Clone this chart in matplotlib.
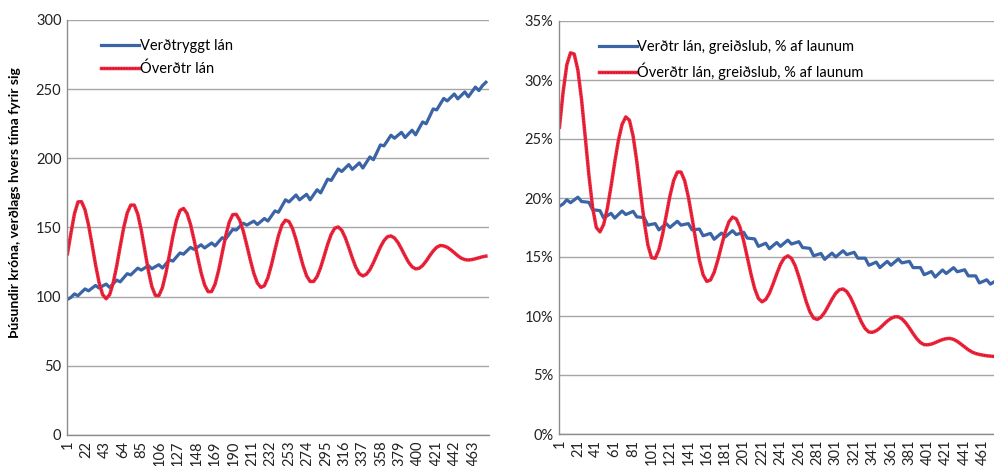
import numpy as np
import matplotlib
matplotlib.use("Agg")
from matplotlib import pyplot as plt
from matplotlib.legend_handler import HandlerTuple
from matplotlib.ticker import FuncFormatter

plt.rcParams['font.family'] = ['Lato', 'DejaVu Sans']

# months 1..480, values read every 4 months (1, 5, 9, ..., 477)
months = np.arange(1, 481, 4)

left_ticks = list(range(1, 481, 21))
right_ticks = list(range(1, 481, 20))

# thousand kr, price level of each time
left_indexed = [
    98.0, 99.5, 102.0, 100.7, 103.2, 105.6, 104.2, 106.2, 108.1, 106.2,
    107.7, 109.1, 106.7, 109.3, 112.0, 110.7, 113.7, 116.6, 115.7, 118.2,
    120.6, 119.2, 120.8, 122.5, 120.2, 121.7, 123.1, 120.7, 123.7, 126.6,
    125.7, 128.7, 131.6, 130.7, 133.2, 135.6, 134.2, 135.8, 137.5, 135.2,
    137.0, 138.8, 136.7, 139.7, 142.6, 141.7, 145.2, 148.6, 148.2, 150.7,
    153.1, 151.7, 153.2, 154.6, 152.2, 154.3, 156.5, 154.7, 158.3, 162.0,
    161.0, 165.5, 170.0, 168.5, 171.0, 173.5, 170.0, 172.0, 174.0, 170.0,
    173.7, 177.3, 175.0, 180.0, 185.0, 184.0, 188.2, 192.3, 190.5, 193.0,
    195.5, 192.0, 194.3, 196.7, 193.0, 197.0, 201.0, 199.0, 204.3, 209.7,
    209.0, 212.8, 216.7, 214.5, 216.7, 218.8, 215.0, 217.7, 220.3, 217.0,
    221.7, 226.3, 225.0, 230.3, 235.7, 235.0, 239.2, 243.3, 241.5, 244.0,
    246.5, 243.0, 245.5, 248.0, 244.5, 248.0, 251.5, 249.0, 252.5, 255.0,
]
left_nonindexed = [
    131.0, 146.0, 160.0, 168.5, 168.7, 162.8, 151.8, 137.7, 123.0, 110.2,
    101.5, 98.5, 101.4, 109.8, 122.1, 136.3, 149.9, 160.5, 166.2, 166.2,
    159.7, 148.0, 133.5, 119.0, 107.3, 100.9, 100.7, 106.5, 117.0, 130.3,
    143.8, 155.2, 162.3, 163.8, 160.2, 152.2, 141.1, 128.9, 117.4, 108.5,
    103.6, 103.7, 109.2, 119.1, 131.5, 143.9, 153.8, 159.3, 159.5, 155.2,
    147.4, 137.3, 126.6, 116.9, 109.9, 106.7, 107.9, 113.7, 122.9, 133.7,
    144.0, 151.8, 155.3, 154.3, 149.3, 141.3, 131.8, 122.5, 115.1, 111.0,
    111.0, 114.6, 121.1, 129.4, 137.9, 145.0, 149.5, 150.4, 148.0, 142.7,
    135.6, 128.0, 121.3, 116.6, 115.0, 116.2, 119.5, 124.5, 130.2, 135.9,
    140.5, 143.3, 143.9, 142.4, 139.1, 134.5, 129.5, 124.9, 121.6, 120.1,
    120.5, 122.5, 125.7, 129.5, 133.0, 135.7, 137.0, 136.7, 135.7, 133.9,
    131.8, 129.6, 127.8, 126.8, 126.5, 126.8, 127.4, 128.1, 128.8, 129.3,
]

# payment as % of wages
right_indexed = [
    19.3, 19.5, 19.85, 19.6, 19.83, 20.07, 19.7, 19.67, 19.63, 19.0,
    18.97, 18.93, 18.3, 18.5, 18.7, 18.3, 18.6, 18.9, 18.6, 18.73,
    18.87, 18.4, 18.37, 18.33, 17.7, 17.77, 17.83, 17.3, 17.57, 17.83,
    17.5, 17.77, 18.03, 17.7, 17.77, 17.83, 17.3, 17.33, 17.37, 16.8,
    16.9, 17.0, 16.5, 16.77, 17.03, 16.7, 16.97, 17.23, 16.9, 17.0,
    17.1, 16.6, 16.57, 16.53, 15.9, 16.03, 16.17, 15.7, 15.97, 16.23,
    15.9, 16.17, 16.43, 16.1, 16.2, 16.3, 15.8, 15.77, 15.73, 15.1,
    15.2, 15.3, 14.8, 15.07, 15.33, 15.0, 15.27, 15.53, 15.2, 15.3,
    15.4, 14.9, 14.9, 14.9, 14.3, 14.43, 14.57, 14.1, 14.37, 14.63,
    14.3, 14.57, 14.83, 14.5, 14.57, 14.63, 14.1, 14.1, 14.1, 13.5,
    13.63, 13.77, 13.3, 13.6, 13.9, 13.6, 13.85, 14.1, 13.75, 13.83,
    13.92, 13.4, 13.4, 13.4, 12.8, 12.93, 13.07, 12.7, 12.9, 13.05,
]
right_nonindexed = [
    26.0, 29.0, 31.3, 32.3, 32.2, 30.84, 28.33, 25.16, 21.92, 19.2,
    17.5, 17.13, 17.76, 19.12, 20.98, 23.02, 24.88, 26.24, 26.87, 26.59,
    25.24, 23.09, 20.52, 18.02, 16.03, 14.94, 14.89, 15.62, 16.92, 18.55,
    20.18, 21.48, 22.2, 22.2, 21.46, 20.08, 18.31, 16.43, 14.72, 13.49,
    12.93, 13.05, 13.7, 14.74, 15.96, 17.11, 17.98, 18.38, 18.23, 17.53,
    16.38, 14.98, 13.55, 12.32, 11.49, 11.2, 11.4, 11.93, 12.72, 13.58,
    14.37, 14.9, 15.1, 14.88, 14.26, 13.33, 12.27, 11.21, 10.35, 9.82,
    9.71, 9.9, 10.31, 10.86, 11.43, 11.92, 12.23, 12.29, 12.07, 11.58,
    10.91, 10.17, 9.47, 8.93, 8.64, 8.62, 8.75, 8.98, 9.28, 9.57,
    9.8, 9.93, 9.93, 9.75, 9.42, 8.99, 8.51, 8.08, 7.75, 7.57,
    7.56, 7.62, 7.74, 7.88, 8.0, 8.08, 8.1, 8.02, 7.85, 7.62,
    7.38, 7.14, 6.95, 6.82, 6.74, 6.68, 6.63, 6.6, 6.57, 6.55,
]

BLUE = '#3b64a6'
RED = '#f2263c'
DOTS = '#a8102a'
GRID = '#a6a6a6'


def style_axes(ax, ticks, ymax, ystep):
    for side in ('top', 'right'):
        ax.spines[side].set_visible(False)
    for side in ('left', 'bottom'):
        ax.spines[side].set_color('#8c8c8c')
        ax.spines[side].set_linewidth(1.0)
    ax.set_ylim(0, ymax)
    ax.set_yticks(np.arange(0, ymax + ystep / 2, ystep))
    ax.yaxis.grid(True, color=GRID, linewidth=1.0)
    ax.set_axisbelow(True)
    ax.set_xticks(ticks)
    ax.set_xticklabels([str(t) for t in ticks], rotation=90, fontsize=9.5)
    ax.tick_params(axis='both', length=0, pad=4, labelsize=10.5, colors='#222222')


def draw_pair(ax, blue, red, blue_label, red_label, anchor):
    b, = ax.plot(months, blue, color=BLUE, linewidth=2.3, solid_joinstyle='round')
    r1, = ax.plot(months, red, color=RED, linewidth=2.5)
    r2, = ax.plot(months, red, color=DOTS, linewidth=0.8, linestyle=(0, (1, 1.5)))
    ax.legend([b, (r1, r2)], [blue_label, red_label],
              handler_map={tuple: HandlerTuple(ndivide=1, pad=0)},
              loc='upper left', bbox_to_anchor=anchor, frameon=False,
              handlelength=2.6, handletextpad=0.05, labelspacing=0.55,
              fontsize=10.5)


fig = plt.figure(figsize=(9.95, 4.66), dpi=100)

# left panel
ax1 = fig.add_axes([67 / 995, 1 - 435 / 466, 422 / 995, 415 / 466])
draw_pair(ax1, left_indexed, left_nonindexed, 'Verðtryggt lán', 'Óverðtr lán', (0.05, 0.985))
style_axes(ax1, left_ticks, 300, 50)
ax1.set_xlim(0.5, 480.5)
fig.text(15 / 995, 1 - 203 / 466, 'Þúsundir króna, verðlags hvers tíma fyrir sig',
         rotation=90, ha='center', va='center', fontsize=10, fontweight='bold')

# right panel (runs slightly past the right edge)
ax2 = fig.add_axes([559 / 995, 1 - 434 / 466, 442 / 995, 413 / 466])
draw_pair(ax2, right_indexed, right_nonindexed,
          'Verðtr lán, greiðslub, % af launum', 'Óverðtr lán, greiðslub, % af launum',
          (0.06, 0.985))
style_axes(ax2, right_ticks, 35, 5)
ax2.set_xlim(0.5, 480.5)
ax2.yaxis.set_major_formatter(FuncFormatter(lambda v, p: f'{v:.0f}%'))

fig.savefig('out.png', dpi=100)
